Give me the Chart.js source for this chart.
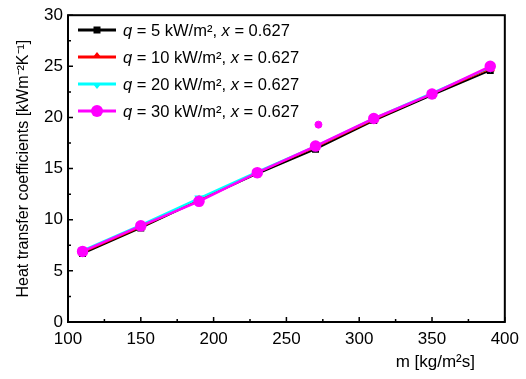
<!DOCTYPE html>
<html>
<head>
<meta charset="utf-8">
<script src="https://cdn.jsdelivr.net/npm/chart.js@4"></script>
<style>
  html, body { margin: 0; padding: 0; background: #fff; }
  #wrap { width: 526px; height: 379px; }
</style>
</head>
<body>
<div id="wrap"><canvas id="grafico" width="526" height="379"></canvas></div>
<script>
// mass flux (kg/m2s)
const massFlux = [110, 150, 190, 230, 270, 310, 350, 390];

// heat transfer coefficients, kW/m2K
const htc5 = [6.7, 9.2, 11.9, 14.5, 16.9, 19.7, 22.2, 24.6];
const htc10 = [6.8, 9.3, 11.9, 14.6, 17.1, 19.8, 22.3, 24.8];
const htc20 = [7.0, 9.5, 12.1, 14.7, 17.2, 19.9, 22.4, 24.9];
const htc30 = [6.9, 9.4, 11.8, 14.6, 17.2, 19.9, 22.3, 25.0];

// stray q=30 point near m=272
const strayX = [272];
const strayY = [19.3];

const seriesLabels = [
  'q = 5 kW/m², x = 0.627',
  'q = 10 kW/m², x = 0.627',
  'q = 20 kW/m², x = 0.627',
  'q = 30 kW/m², x = 0.627'
];
const seriesColors = ['#000000', '#ff0000', '#00ffff', '#ff00ff'];
const seriesMarkers = ['rect', 'triangle', 'triangle', 'circle'];
const markerRot = [0, 0, 180, 0];
const markerSize = [3.5, 3.5, 3.5, 4.5];

const xTicks = [100, 150, 200, 250, 300, 350, 400];
const yTicks = [0, 5, 10, 15, 20, 25, 30];

const FONT = '"Liberation Sans", Arial, Helvetica, sans-serif';

function pts(xs, ys) {
  return xs.map((x, i) => ({ x: x, y: ys[i] }));
}

const allSeries = [htc5, htc10, htc20, htc30];
const datasets = allSeries.map((vals, i) => ({
  label: seriesLabels[i],
  data: pts(massFlux, vals),
  borderColor: seriesColors[i],
  backgroundColor: seriesColors[i],
  borderWidth: i === 3 ? 2.5 : 2,
  pointStyle: seriesMarkers[i],
  rotation: markerRot[i],
  pointRadius: markerSize[i],
  pointHoverRadius: markerSize[i],
  showLine: true,
  tension: 0,
  order: 4 - i
}));
datasets.push({
  label: '',
  data: pts(strayX, strayY),
  borderColor: '#ff00ff',
  backgroundColor: '#ff00ff',
  pointStyle: 'circle',
  pointRadius: 3.5,
  showLine: false,
  order: 0
});

// frame, inward ticks, legend and x title
const framePlugin = {
  id: 'frame',
  afterDraw(chart) {
    const ctx = chart.ctx;
    const a = chart.chartArea;
    const xs = chart.scales.x, ys = chart.scales.y;
    ctx.save();
    ctx.strokeStyle = '#000';
    ctx.lineWidth = 2;
    ctx.strokeRect(a.left, a.top, a.right - a.left, a.bottom - a.top);

    ctx.lineWidth = 1.5;
    ctx.beginPath();
    for (let v = 100; v <= 400; v += 25) {
      const px = xs.getPixelForValue(v);
      const len = v % 50 === 0 ? 5 : 3;
      ctx.moveTo(px, a.bottom);
      ctx.lineTo(px, a.bottom - len);
    }
    for (let v = 0; v <= 30; v += 2.5) {
      const py = ys.getPixelForValue(v);
      const len = v % 5 === 0 ? 5 : 3;
      ctx.moveTo(a.left, py);
      ctx.lineTo(a.left + len, py);
    }
    ctx.stroke();

    // legend
    const rows = [30, 57, 84, 111];
    seriesLabels.forEach((lab, i) => {
      const y = rows[i];
      ctx.strokeStyle = seriesColors[i];
      ctx.lineWidth = 3;
      ctx.beginPath();
      ctx.moveTo(78, y);
      ctx.lineTo(116, y);
      ctx.stroke();
      ctx.fillStyle = seriesColors[i];
      ctx.beginPath();
      if (i === 0) {
        ctx.rect(93.5, y - 3.5, 7, 7);
      } else if (i === 1) {
        ctx.moveTo(97, y - 5); ctx.lineTo(101, y); ctx.lineTo(93, y);
      } else if (i === 2) {
        ctx.moveTo(97, y + 5); ctx.lineTo(101, y); ctx.lineTo(93, y);
      } else {
        ctx.arc(97, y, 6, 0, Math.PI * 2);
      }
      ctx.fill();

      ctx.fillStyle = '#000';
      ctx.textBaseline = 'middle';
      ctx.textAlign = 'left';
      let tx = 123;
      lab.split(/(\bq\b|\bx\b)/).forEach(part => {
        if (!part) return;
        const it = part === 'q' || part === 'x';
        ctx.font = (it ? 'italic ' : '') + '16.5px ' + FONT;
        ctx.fillText(part, tx, y + 1);
        tx += ctx.measureText(part).width;
      });
    });

    ctx.font = '17px ' + FONT;
    ctx.fillStyle = '#000';
    ctx.textAlign = 'right';
    ctx.textBaseline = 'middle';
    ctx.fillText('m [kg/m²s]', 475, 362);
    ctx.restore();
  }
};

new Chart(document.getElementById('grafico').getContext('2d'), {
  type: 'scatter',
  data: { datasets: datasets },
  options: {
    responsive: false,
    animation: false,
    layout: { padding: { left: 0, top: 12, right: 16, bottom: 0 } },
    plugins: {
      legend: { display: false },
      tooltip: { enabled: false }
    },
    scales: {
      x: {
        type: 'linear',
        min: 100,
        max: 400,
        afterBuildTicks: s => { s.ticks = xTicks.map(v => ({ value: v })); },
        afterFit: s => { s.height = 57; },
        grid: { display: false, drawTicks: false },
        border: { display: false },
        ticks: { color: '#000', padding: 7, font: { family: FONT, size: 17 }, maxRotation: 0 }
      },
      y: {
        type: 'linear',
        min: 0,
        max: 30,
        afterBuildTicks: s => { s.ticks = yTicks.map(v => ({ value: v })); },
        afterFit: s => { s.width = 68; },
        grid: { display: false, drawTicks: false },
        border: { display: false },
        ticks: { color: '#000', padding: 5, font: { family: FONT, size: 17 } },
        title: {
          display: true,
          text: 'Heat transfer coefficients [kWm⁻²K⁻¹]',
          color: '#000',
          font: { family: FONT, size: 16 },
          padding: { top: 14, bottom: 0 }
        }
      }
    }
  },
  plugins: [framePlugin]
});
</script>
</body>
</html>
